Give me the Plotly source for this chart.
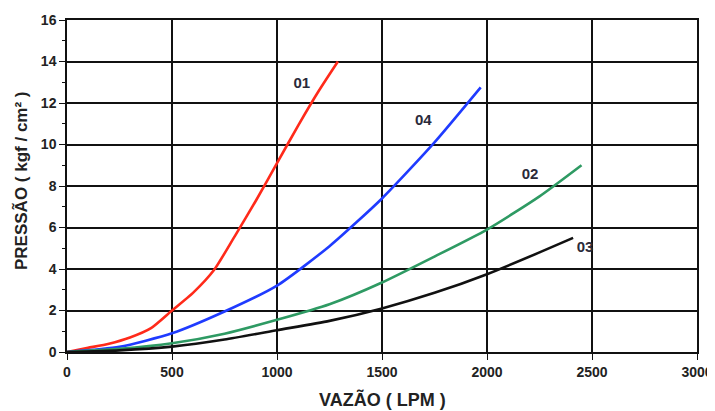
import plotly.graph_objects as go

# Curve 01 (red)
x01 = [0, 100, 200, 300, 400, 500, 600, 700, 800, 900, 1000, 1100, 1200, 1290]
y01 = [0, 0.2, 0.4, 0.7, 1.15, 2.0, 2.85, 3.95, 5.6, 7.3, 9.1, 10.9, 12.6, 14.0]
# Curve 04 (blue)
x04 = [0, 250, 500, 750, 1000, 1250, 1500, 1750, 1970]
y04 = [0, 0.25, 0.9, 1.95, 3.2, 5.1, 7.4, 10.1, 12.75]
# Curve 02 (green)
x02 = [0, 250, 500, 750, 1000, 1250, 1500, 1750, 2000, 2250, 2450]
y02 = [0, 0.15, 0.42, 0.88, 1.55, 2.3, 3.35, 4.6, 5.9, 7.5, 9.0]
# Curve 03 (black)
x03 = [0, 250, 500, 750, 1000, 1250, 1500, 1750, 2000, 2250, 2410]
y03 = [0, 0.08, 0.26, 0.6, 1.05, 1.5, 2.1, 2.85, 3.75, 4.8, 5.5]

curve_labels = ["01", "04", "02", "03"]
label_x = [1118, 1697, 2205, 2467]
label_y = [12.9, 11.1, 8.5, 5.0]

FONT = "Liberation Sans"

fig = go.Figure()
series = [(x01, y01, "#ff2a1a"), (x04, y04, "#1f3bff"),
          (x02, y02, "#2e9a63"), (x03, y03, "#111111")]
for xs, ys, c in series:
    fig.add_trace(go.Scatter(x=xs, y=ys, mode="lines",
                             line=dict(color=c, width=2.6, shape="spline", smoothing=0.6),
                             showlegend=False, hoverinfo="skip"))

fig.add_trace(go.Scatter(x=label_x, y=label_y, mode="text", text=curve_labels,
                         textfont=dict(family=FONT, size=15, color="#2a2a3a", weight="bold"),
                         showlegend=False, hoverinfo="skip"))

# lighter grid lines at 1500 and 12
fig.add_shape(type="line", xref="x", yref="paper", x0=1500, x1=1500, y0=0, y1=1,
              line=dict(color="#9a9a9a", width=1.5), layer="below")
fig.add_shape(type="line", xref="paper", yref="y", x0=0, x1=1, y0=12, y1=12,
              line=dict(color="#9a9a9a", width=1.5), layer="below")

tickfont = dict(family=FONT, size=14, color="#222222", weight="bold")
titlefont = dict(family=FONT, color="#222222", weight="bold")
fig.update_xaxes(range=[0, 3000], dtick=500, tick0=0, showgrid=True, gridcolor="#111111",
                 gridwidth=1.5, showline=True, linecolor="#111111", linewidth=1.5, mirror=True,
                 ticks="outside", ticklen=6, tickcolor="#111111", tickfont=tickfont,
                 zeroline=False, automargin=False)
fig.update_yaxes(range=[0, 16], dtick=2, tick0=0, showgrid=True, gridcolor="#111111",
                 gridwidth=1.5, showline=True, linecolor="#111111", linewidth=1.5, mirror=True,
                 ticks="outside", ticklen=6, tickcolor="#111111", tickfont=tickfont,
                 zeroline=False, automargin=False,
                 minor=dict(dtick=1, ticks="outside", ticklen=3, tickcolor="#111111", showgrid=False))

fig.add_annotation(text="VAZÃO ( LPM )", xref="paper", yref="paper", x=0.5, y=0,
                   xanchor="center", yanchor="middle", yshift=-47, showarrow=False,
                   font=dict(size=18, **titlefont))
fig.add_annotation(text="PRESSÃO ( kgf / cm² )", xref="paper", yref="paper", x=0, y=0.515,
                   xanchor="center", yanchor="middle", xshift=-46, textangle=-90, showarrow=False,
                   font=dict(size=17, **titlefont))

# page body has an 8px default margin, so the figure is sized to fit inside the window
fig.update_layout(width=707, height=403, margin=dict(l=59, r=18, t=12, b=59),
                  paper_bgcolor="white", plot_bgcolor="white")

fig.write_html("out.html")
